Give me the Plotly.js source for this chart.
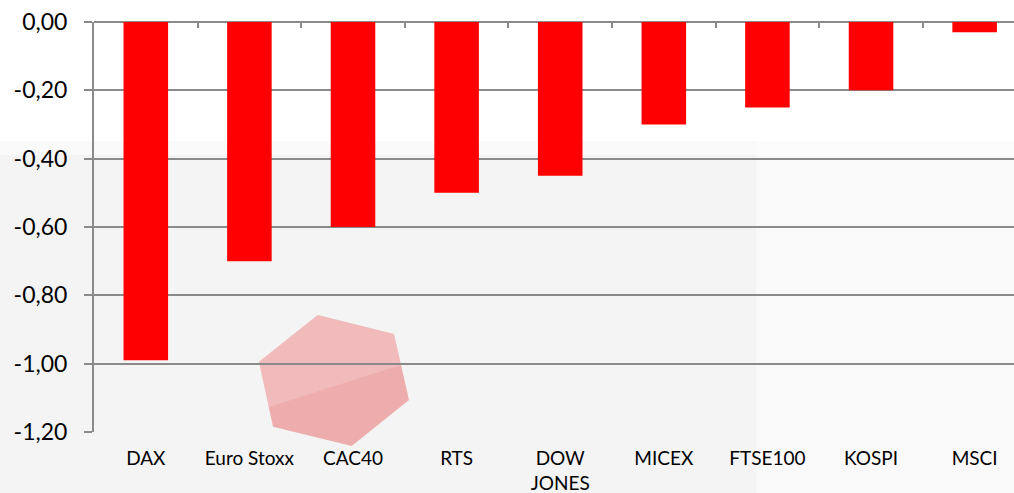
<!DOCTYPE html>
<html>
<head>
<meta charset="utf-8">
<script src="https://cdn.plot.ly/plotly-3.0.1.min.js"></script>
<style>html,body{margin:0;padding:0;background:#fff;}#chart{width:1014px;height:493px;}</style>
</head>
<body>
<div id="chart"></div>
<script>
const categories = ["DAX", "Euro Stoxx", "CAC40", "RTS", "DOW<br>JONES", "MICEX", "FTSE100", "KOSPI", "MSCI"];
const values = [-0.99, -0.70, -0.60, -0.50, -0.45, -0.30, -0.25, -0.20, -0.03];
const yTickVals = [0, -0.2, -0.4, -0.6, -0.8, -1.0, -1.2];
const yTickText = ["0,00", "-0,20", "-0,40", "-0,60", "-0,80", "-1,00", "-1,20"];

const bars = {
  type: "bar",
  x: categories,
  y: values,
  marker: {color: "#ff0000"},
  hoverinfo: "x+y",
  showlegend: false
};
const topAxisHelper = {
  type: "scatter",
  mode: "markers",
  x: categories,
  y: values,
  xaxis: "x2",
  marker: {opacity: 0},
  hoverinfo: "skip",
  showlegend: false
};

const hexPath = "M0.2432,0.2854 L0.3261,0.2390 L0.3424,0.0780 L0.2801,-0.0341 L0.1946,0.0129 L0.1793,0.1715 Z";
const hexLight = "M0.1793,0.1715 L0.2432,0.2854 L0.3261,0.2390 L0.3337,0.1634 L0.1900,0.0610 Z";

const layout = {
  width: 1014,
  height: 493,
  margin: {l: 94, r: 0, t: 22, b: 61},
  paper_bgcolor: "#ffffff",
  plot_bgcolor: "rgba(0,0,0,0)",
  font: {family: "Lato, 'Open Sans', sans-serif", color: "#000"},
  bargap: 0.57,
  xaxis: {
    type: "category",
    categoryarray: categories,
    range: [-0.5, 8.38],
    showgrid: false,
    showline: false,
    zeroline: false,
    ticks: "",
    ticklabelstandoff: 13,
    tickfont: {size: 19, color: "#000"},
    fixedrange: true
  },
  xaxis2: {
    type: "category",
    categoryarray: categories,
    overlaying: "x",
    side: "top",
    range: [-0.5, 8.38],
    showgrid: false,
    showline: false,
    zeroline: false,
    ticks: "inside",
    tickson: "boundaries",
    ticklen: 6,
    tickwidth: 2,
    tickcolor: "#8a8a8a",
    showticklabels: false,
    fixedrange: true
  },
  yaxis: {
    range: [-1.2, 0],
    tickvals: yTickVals,
    ticktext: yTickText,
    tickfont: {size: 23, color: "#000"},
    showgrid: true,
    gridcolor: "#8a8a8a",
    gridwidth: 2,
    zeroline: true,
    zerolinecolor: "#8a8a8a",
    zerolinewidth: 2,
    showline: true,
    linecolor: "#8a8a8a",
    linewidth: 2,
    ticks: "outside",
    ticklen: 8,
    tickwidth: 2,
    tickcolor: "#8a8a8a",
    ticklabelstandoff: 12,
    fixedrange: true
  },
  shapes: [
    {type: "rect", xref: "paper", yref: "paper", x0: -0.103, x1: 1, y0: 0.676, y1: 0.71,
     fillcolor: "#fafafa", line: {width: 0}, layer: "below"},
    {type: "rect", xref: "paper", yref: "paper", x0: -0.103, x1: 1, y0: -0.15, y1: 0.676,
     fillcolor: "#f4f4f4", line: {width: 0}, layer: "below"},
    {type: "rect", xref: "paper", yref: "paper", x0: 0.72, x1: 1, y0: -0.15, y1: 0.71,
     fillcolor: "rgba(255,255,255,0.45)", line: {width: 0}, layer: "below"},
    {type: "path", xref: "paper", yref: "paper", path: hexPath,
     fillcolor: "#eeadad", line: {width: 0}, layer: "below"},
    {type: "path", xref: "paper", yref: "paper", path: hexLight,
     fillcolor: "rgba(255,255,255,0.18)", line: {width: 0}, layer: "below"}
  ]
};

Plotly.newPlot("chart", [bars, topAxisHelper], layout, {displayModeBar: false, staticPlot: true});
</script>
</body>
</html>
